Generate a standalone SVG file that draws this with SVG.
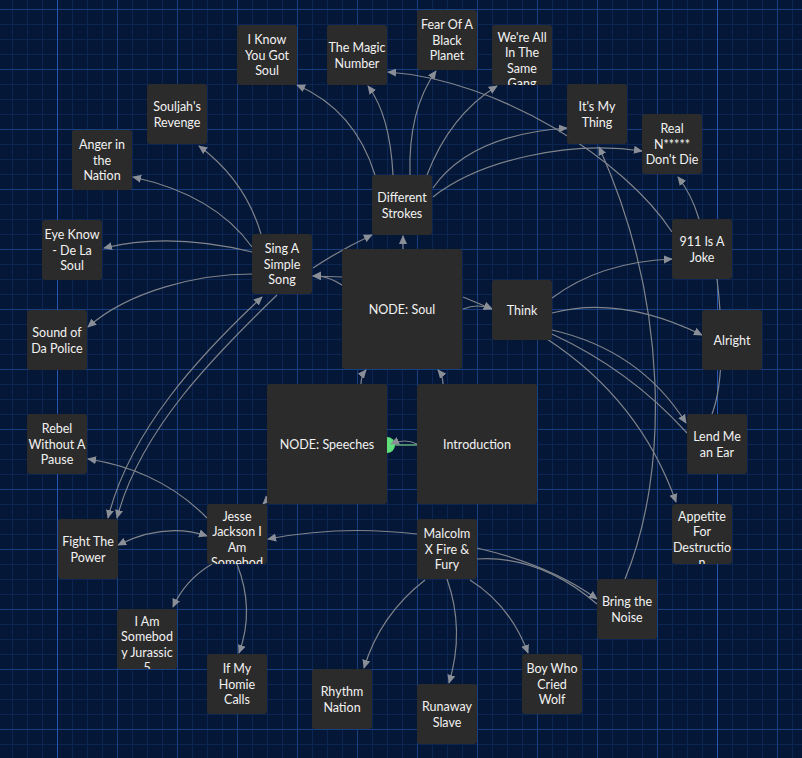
<svg xmlns="http://www.w3.org/2000/svg" width="802" height="758" viewBox="0 0 802 758">
<style>
.n rect{fill:#2b2b2b;}
.n text{font-family:Lato,"Noto Sans",sans-serif;font-size:12.5px;fill:#f2f2f2;text-anchor:middle;}
.e path{fill:none;stroke:#80848c;stroke-width:1.2;}
.e .a{marker-end:url(#ar);}
.e .b{marker-start:url(#ar);marker-end:url(#ar);}
</style>
<defs>
<pattern id="g" x="57" y="9" width="60" height="60" patternUnits="userSpaceOnUse">
<path d="M15.5,0V60M30.5,0V60M45.5,0V60M0,15.5H60M0,30.5H60M0,45.5H60" stroke="#0c2552" stroke-width="1" fill="none"/>
<path d="M0.5,0V60M0,0.5H60" stroke="#173f80" stroke-width="1" fill="none"/>
</pattern>
<marker id="ar" viewBox="0 0 10 10" refX="9" refY="5" markerWidth="9" markerHeight="9" markerUnits="userSpaceOnUse" orient="auto-start-reverse">
<path d="M0,0.5L10,5L0,9.5z" fill="#8a8e96"/>
</marker>
<clipPath id="c60"><rect width="60" height="60"/></clipPath>
</defs>
<rect width="802" height="758" fill="#041736"/>
<rect width="802" height="758" fill="url(#g)"/>
<path d="M57.5,0V758M717.5,0V758" stroke="#2456b0" stroke-width="1"/>

<g id="connectors" class="e">
<path class="a" d="M375,175 Q355,110 297,85"/>
<path class="a" d="M393,175 Q390,115 368,86"/>
<path class="a" d="M410,175 Q408,110 436,71"/>
<path class="a" d="M427,175 Q450,115 497,86"/>
<path class="a" d="M433,188 Q470,135 567,128"/>
<path class="a" d="M433,197 C480,160 570,140 642,151"/>
<path class="a" d="M403,249 L403,236"/>
<path class="a" d="M313,268 Q340,250 372,235"/>
<path class="a" d="M261,234 Q245,180 199,146"/>
<path class="a" d="M252,247 Q215,195 133,177"/>
<path class="a" d="M252,252 Q170,232 104,248"/>
<path class="a" d="M252,274 C200,274 130,290 88,327"/>
<path class="b" d="M262,297 C200,355 130,430 108,518"/>
<path class="a" d="M277,295 C215,355 140,430 117,518"/>
<path class="b" d="M118,545 Q165,522 207,536"/>
<path class="a" d="M207,518 Q160,470 88,459"/>
<path class="a" d="M270,497 L263,504"/>
<path class="a" d="M417,534 Q340,525 268,539"/>
<path class="a" d="M212,564 Q185,580 173,607"/>
<path class="a" d="M237,564 Q255,610 239,653"/>
<path class="a" d="M425,580 Q380,615 364,668"/>
<path class="a" d="M447,579 Q465,630 449,683"/>
<path class="a" d="M470,580 Q510,605 528,653"/>
<path class="a" d="M477,548 Q550,565 597,599"/>
<path d="M477,559 Q540,555 597,604"/>
<path class="a" d="M625,579 C670,470 668,300 599,147"/>
<path class="a" d="M552,298 Q600,262 672,259"/>
<path class="a" d="M552,313 Q620,295 702,335"/>
<path class="a" d="M552,330 Q640,350 686,423"/>
<path d="M552,334 Q630,370 687,433"/>
<path class="a" d="M547,339 Q640,400 676,502"/>
<path class="a" d="M463,297 L492,309"/>
<path class="a" d="M463,309 Q478,303 492,309"/>
<path class="a" d="M342,277 L313,276"/>
<path class="a" d="M360,300 Q335,275 313,276"/>
<path class="a" d="M361,384 Q361,376 366,370"/>
<path class="a" d="M443,384 Q443,376 438,370"/>
<circle cx="387" cy="445" r="8" fill="#5fe07c"/>
<path d="M395,445 L417,445" style="stroke:#8ff09a;stroke-width:1"/>
<path class="a" d="M417,444 Q405,438 391,444"/>
<path class="a" d="M699,219 Q692,195 678,177"/>
<path class="a" d="M672,232 C625,160 500,80 388,72"/>
<path d="M717,279 C722,320 725,380 712,414"/>
</g>

<g id="n-iknow" class="n" transform="translate(237,25)"><rect width="60" height="60" rx="3"/><text><tspan x="30" y="19">I Know</tspan><tspan x="30" y="34.5">You Got</tspan><tspan x="30" y="50">Soul</tspan></text></g>
<g id="n-magic" class="n" transform="translate(327,25)"><rect width="60" height="60" rx="3"/><text><tspan x="30" y="27">The Magic</tspan><tspan x="30" y="42.5">Number</tspan></text></g>
<g id="n-fear" class="n" transform="translate(417,10)"><rect width="60" height="60" rx="3"/><text><tspan x="30" y="19">Fear Of A</tspan><tspan x="30" y="34.5">Black</tspan><tspan x="30" y="50">Planet</tspan></text></g>
<g id="n-gang" class="n" transform="translate(492,25)"><rect width="60" height="60" rx="3"/><text clip-path="url(#c60)"><tspan x="30" y="16.5">We're All</tspan><tspan x="30" y="32">In The</tspan><tspan x="30" y="47.5">Same</tspan><tspan x="30" y="63">Gang</tspan></text></g>
<g id="n-souljah" class="n" transform="translate(147,84)"><rect width="60" height="60" rx="3"/><text><tspan x="30" y="27">Souljah's</tspan><tspan x="30" y="42.5">Revenge</tspan></text></g>
<g id="n-anger" class="n" transform="translate(72,130)"><rect width="60" height="60" rx="3"/><text><tspan x="30" y="19">Anger in</tspan><tspan x="30" y="34.5">the</tspan><tspan x="30" y="50">Nation</tspan></text></g>
<g id="n-eyeknow" class="n" transform="translate(42,220)"><rect width="60" height="60" rx="3"/><text><tspan x="30" y="19">Eye Know</tspan><tspan x="30" y="34.5">- De La</tspan><tspan x="30" y="50">Soul</tspan></text></g>
<g id="n-sing" class="n" transform="translate(252,234)"><rect width="60" height="60" rx="3"/><text><tspan x="30" y="19">Sing A</tspan><tspan x="30" y="34.5">Simple</tspan><tspan x="30" y="50">Song</tspan></text></g>
<g id="n-strokes" class="n" transform="translate(372,175)"><rect width="60" height="60" rx="3"/><text><tspan x="30" y="27">Different</tspan><tspan x="30" y="42.5">Strokes</tspan></text></g>
<g id="n-mything" class="n" transform="translate(567,84)"><rect width="60" height="60" rx="3"/><text><tspan x="30" y="27">It's My</tspan><tspan x="30" y="42.5">Thing</tspan></text></g>
<g id="n-real" class="n" transform="translate(642,114)"><rect width="60" height="60" rx="3"/><text><tspan x="30" y="19">Real</tspan><tspan x="30" y="34.5">N*****</tspan><tspan x="30" y="50">Don't Die</tspan></text></g>
<g id="n-911" class="n" transform="translate(672,219)"><rect width="60" height="60" rx="3"/><text><tspan x="30" y="27">911 Is A</tspan><tspan x="30" y="42.5">Joke</tspan></text></g>
<g id="n-alright" class="n" transform="translate(702,310)"><rect width="60" height="60" rx="3"/><text><tspan x="30" y="34.5">Alright</tspan></text></g>
<g id="n-think" class="n" transform="translate(492,280)"><rect width="60" height="60" rx="3"/><text><tspan x="30" y="34.5">Think</tspan></text></g>
<g id="n-soul" class="n" transform="translate(342,249)"><rect width="120" height="120" rx="3"/><text><tspan x="60" y="65">NODE: Soul</tspan></text></g>
<g id="n-speeches" class="n" transform="translate(267,384)"><rect width="120" height="120" rx="3"/><text><tspan x="60" y="65">NODE: Speeches</tspan></text></g>
<g id="n-intro" class="n" transform="translate(417,384)"><rect width="120" height="120" rx="3"/><text><tspan x="60" y="65">Introduction</tspan></text></g>
<g id="n-police" class="n" transform="translate(27,310)"><rect width="60" height="60" rx="3"/><text><tspan x="30" y="27">Sound of</tspan><tspan x="30" y="42.5">Da Police</tspan></text></g>
<g id="n-rebel" class="n" transform="translate(27,414)"><rect width="60" height="60" rx="3"/><text><tspan x="30" y="19">Rebel</tspan><tspan x="30" y="34.5">Without A</tspan><tspan x="30" y="50">Pause</tspan></text></g>
<g id="n-lend" class="n" transform="translate(687,414)"><rect width="60" height="60" rx="3"/><text><tspan x="30" y="27">Lend Me</tspan><tspan x="30" y="42.5">an Ear</tspan></text></g>
<g id="n-appetite" class="n" transform="translate(672,504)"><rect width="60" height="60" rx="3"/><text clip-path="url(#c60)"><tspan x="30" y="16.5">Appetite</tspan><tspan x="30" y="32">For</tspan><tspan x="30" y="47.5">Destructio</tspan><tspan x="30" y="63">n</tspan></text></g>
<g id="n-fight" class="n" transform="translate(58,519)"><rect width="60" height="60" rx="3"/><text><tspan x="30" y="27">Fight The</tspan><tspan x="30" y="42.5">Power</tspan></text></g>
<g id="n-jesse" class="n" transform="translate(207,504)"><rect width="60" height="60" rx="3"/><text clip-path="url(#c60)"><tspan x="30" y="16.5">Jesse</tspan><tspan x="30" y="32">Jackson I</tspan><tspan x="30" y="47.5">Am</tspan><tspan x="30" y="63">Somebod</tspan></text></g>
<g id="n-jurassic" class="n" transform="translate(117,609)"><rect width="60" height="60" rx="3"/><text clip-path="url(#c60)"><tspan x="30" y="16.5">I Am</tspan><tspan x="30" y="32">Somebod</tspan><tspan x="30" y="47.5">y Jurassic</tspan><tspan x="30" y="63">5</tspan></text></g>
<g id="n-homie" class="n" transform="translate(207,654)"><rect width="60" height="60" rx="3"/><text><tspan x="30" y="19">If My</tspan><tspan x="30" y="34.5">Homie</tspan><tspan x="30" y="50">Calls</tspan></text></g>
<g id="n-rhythm" class="n" transform="translate(312,669)"><rect width="60" height="60" rx="3"/><text><tspan x="30" y="27">Rhythm</tspan><tspan x="30" y="42.5">Nation</tspan></text></g>
<g id="n-malcolm" class="n" transform="translate(417,519)"><rect width="60" height="60" rx="3"/><text><tspan x="30" y="19">Malcolm</tspan><tspan x="30" y="34.5">X Fire &amp;</tspan><tspan x="30" y="50">Fury</tspan></text></g>
<g id="n-runaway" class="n" transform="translate(417,684)"><rect width="60" height="60" rx="3"/><text><tspan x="30" y="27">Runaway</tspan><tspan x="30" y="42.5">Slave</tspan></text></g>
<g id="n-boy" class="n" transform="translate(522,654)"><rect width="60" height="60" rx="3"/><text><tspan x="30" y="19">Boy Who</tspan><tspan x="30" y="34.5">Cried</tspan><tspan x="30" y="50">Wolf</tspan></text></g>
<g id="n-noise" class="n" transform="translate(597,579)"><rect width="60" height="60" rx="3"/><text><tspan x="30" y="27">Bring the</tspan><tspan x="30" y="42.5">Noise</tspan></text></g>
</svg>
